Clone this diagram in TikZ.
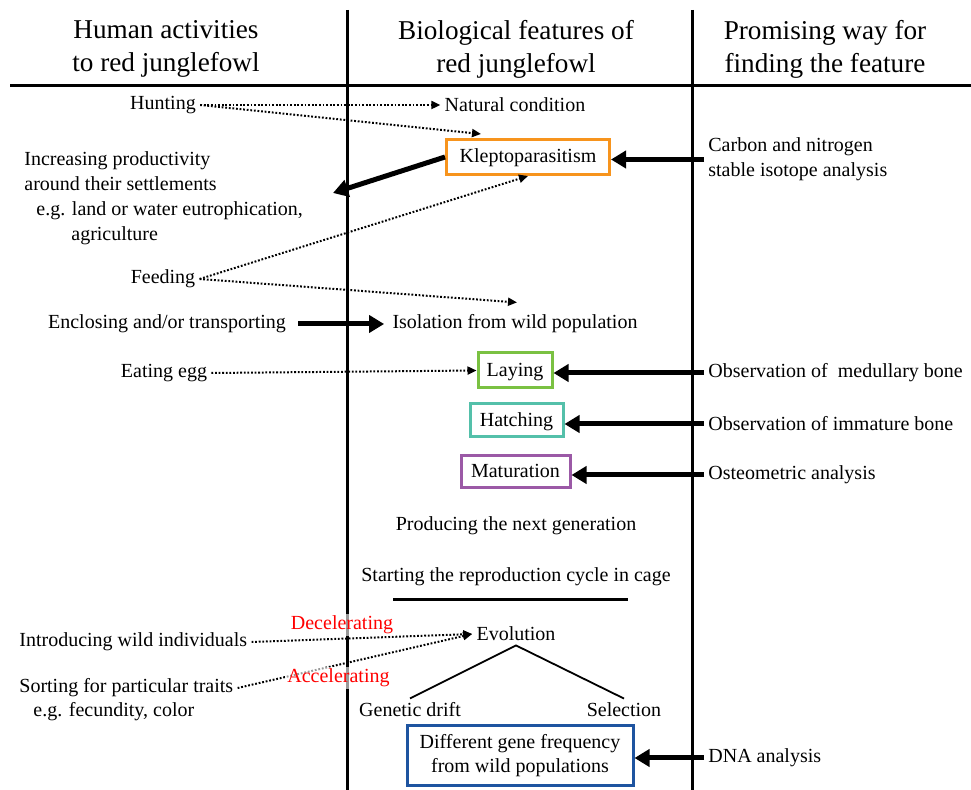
\documentclass[tikz,border=0pt]{standalone}
\usepackage{fontspec}
\setmainfont{Liberation Serif}
\usepackage{tikz}
\usetikzlibrary{arrows.meta, calc}
\definecolor{kleptoorange}{RGB}{247,148,29}
\definecolor{layinggreen}{RGB}{122,193,66}
\definecolor{hatchteal}{RGB}{84,192,170}
\definecolor{maturepurple}{RGB}{155,89,166}
\definecolor{geneblue}{RGB}{30,84,160}

\begin{document}
\begin{tikzpicture}[
    x=0.5pt, y=-0.5pt,
    % Node styles
    txt/.style={inner sep=2pt, yshift=-1pt, font=\fontsize{10}{12.5}\selectfont},
    head/.style={align=center, font=\fontsize{13.6}{16.5}\selectfont},
    featbox/.style={draw, line width=1.5pt, minimum height=17.5pt, inner sep=2pt,
                    fill=white, font=\fontsize{10}{12}\selectfont},
    oneline/.style={text height=7pt, text depth=1pt},
    dotarr/.style={line width=1pt, dash pattern=on 0.9pt off 0.9pt,
                   -{Triangle[length=4.5pt, width=4pt]}},
    thickarr/.style={line width=2.5pt, -{Triangle[length=7.5pt, width=8.5pt]}},
    rlbl/.style={text=red, fill=white, fill opacity=0.6, text opacity=1,
                 inner sep=1pt, font=\fontsize{10}{12}\selectfont}
]
\useasboundingbox (0,0) rectangle (971,790);

% Frame lines
\draw[line width=1.5pt] (10,86) -- (971,86);
\draw[line width=1.5pt] (347,10) -- (347,790);
\draw[line width=1.5pt] (692,10) -- (692,790);

% Column labels
\node[head] (hhuman) at (166,49) {Human activities\\to red junglefowl};
\node[head] (hbio) at (516,49) {Biological features of\\red junglefowl};
\node[head] (hway) at (825,49) {Promising way for\\finding the feature};

% Human activities
\node[txt] (hunt) at (163,103) {Hunting};
\node[txt, anchor=west, align=left] (incr) at (20,196)
    {Increasing productivity\\around their settlements\\
     \hspace*{6pt}e.g. land or water eutrophication,\\\hspace*{23.5pt}agriculture};
\node[txt] (feed) at (163,277) {Feeding};
\node[txt] (encl) at (167,322) {Enclosing and/or transporting};
\node[txt] (egg) at (164,371) {Eating egg};
\node[txt, anchor=west] (intro) at (15,640) {Introducing wild individuals};
\node[txt, anchor=west] (sort) at (15,686) {Sorting for particular traits};
\node[txt, anchor=west] (sorteg) at (29,710) {e.g. fecundity, color};
\coordinate (incrtip) at (333,193);

% Biological features
\node[txt] (natural) at (515,103) {Natural condition};
\node[featbox, oneline, draw=kleptoorange, minimum width=81.5pt] (klepto) at (528,157) {Kleptoparasitism};
\node[txt] (isol) at (515,322) {Isolation from wild population};
\node[featbox, oneline, draw=layinggreen, minimum width=37pt] (laying) at (515,370.5) {Laying};
\node[featbox, oneline, draw=hatchteal, minimum width=46.5pt, minimum height=16.5pt] (hatch) at (516.5,420.5) {Hatching};
\node[featbox, oneline, draw=maturepurple, minimum width=54.5pt, minimum height=16pt] (mature) at (515.5,472) {Maturation};
\node[txt] (produce) at (516,524) {Producing the next generation};
\node[txt] (startcyc) at (516,575) {Starting the reproduction cycle in cage};
\draw[line width=1.5pt] (393,600) -- (628,600);
\node[txt] (evol) at (516,632) {Evolution};
\node[txt] (drift) at (410,708) {Genetic drift};
\node[txt] (select) at (624,708) {Selection};
\node[featbox, draw=geneblue, minimum width=113pt, minimum height=30pt, align=center] (gene) at (520,756)
    {Different gene frequency\\from wild populations};

% Promising ways
\node[txt, anchor=west, align=left] (isotope) at (704,157.5)
    {Carbon and nitrogen\\stable isotope analysis};
\node[txt, anchor=west] (medul) at (704,371) {Observation of~ medullary bone};
\node[txt, anchor=west] (immat) at (704,422) {Observation of immature bone};
\node[txt, anchor=west] (osteo) at (704,473) {Osteometric analysis};
\node[txt, anchor=west] (dna) at (704,756) {DNA analysis};

% Arrows
\draw[dotarr] (hunt.east) -- (natural.west);
\draw[dotarr] (hunt.east) -- ($(klepto.north west)+(36,-4)$);
\draw[thickarr] (klepto.west) -- (incrtip);
\draw[dotarr] (feed.east) -- (klepto.south);
\draw[dotarr] (feed.east) -- ($(isol.north)+(2,-8)$);
\draw[thickarr] ([xshift=4pt]encl.east) -- ([xshift=-2pt]isol.west);
\draw[dotarr] (egg.east) -- (laying.west);
\draw[dotarr] (intro.east) -- node[rlbl, pos=0.41, yshift=7pt] {Decelerating} (evol.west);
\draw[dotarr] (sort.east) -- node[rlbl, pos=0.43, yshift=-6.5pt] {Accelerating} (evol.west);
\draw[line width=0.9pt] (drift.north) -- (evol.south) -- (select.north);

\draw[thickarr] (isotope.west) -- (isotope.west -| klepto.east);
\draw[thickarr] (medul.west) -- (medul.west -| laying.east);
\draw[thickarr] (immat.west) -- (immat.west -| hatch.east);
\draw[thickarr] (osteo.west) -- (osteo.west -| mature.east);
\draw[thickarr] (dna.west) -- (dna.west -| gene.east);

\end{tikzpicture}
\end{document}
